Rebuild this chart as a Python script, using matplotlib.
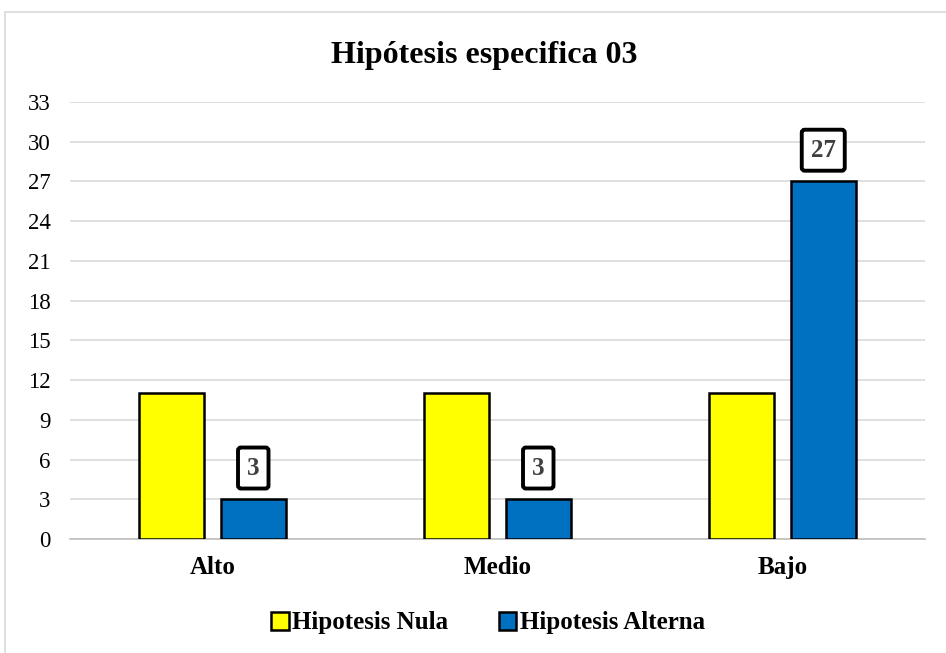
import matplotlib
matplotlib.use("Agg")
import matplotlib.pyplot as plt
from matplotlib.patches import Rectangle
import numpy as np

categories = ["Alto", "Medio", "Bajo"]
nula = [11, 11, 11]
alterna = [3, 3, 27]
yticks = [0, 3, 6, 9, 12, 15, 18, 21, 24, 27, 30, 33]
title = "Hipótesis especifica 03"
series_names = ["Hipotesis Nula", "Hipotesis Alterna"]

plt.rcParams['font.family'] = ['Liberation Serif', 'DejaVu Serif']

W, H = 946, 653
fig = plt.figure(figsize=(W / 100, H / 100), dpi=100)
ax = fig.add_axes([70 / W, 1 - 539 / H, 855 / W, (539 - 102) / H])

x = np.arange(len(categories))
bw = 0.228
off = 0.143
ax.bar(x - off, nula, bw, color="#FFFF00", edgecolor="black", linewidth=1.8,
       label=series_names[0], zorder=3)
ax.bar(x + off, alterna, bw, color="#0070C0", edgecolor="black", linewidth=1.8,
       label=series_names[1], zorder=3)

for xi, v in zip(x + off, alterna):
    ax.annotate(str(v), (xi, v), xytext=(0, 22.5), textcoords="offset points",
                ha="center", va="center", fontsize=18, fontweight="bold",
                color="#404040", zorder=5,
                bbox=dict(boxstyle="round,pad=0.36,rounding_size=0.12",
                          fc="white", ec="black", lw=2.8))

ax.set_xlim(-0.5, 2.5)
ax.set_ylim(0, 33)
ax.set_yticks(yticks)
ax.set_xticks(x)
ax.set_xticklabels(categories, fontsize=18, fontweight="bold")
ax.tick_params(axis="y", labelsize=16.5, length=0, pad=14)
ax.tick_params(axis="x", length=0, pad=12)
ax.grid(axis="y", color="#D9D9D9", linewidth=1.2, zorder=0)
for s in ["left", "right", "top"]:
    ax.spines[s].set_visible(False)
ax.spines["bottom"].set_color("#BFBFBF")
ax.spines["bottom"].set_linewidth(1.2)

fig.text(484 / W, 1 - 55 / H, title, ha="center", va="center",
         fontsize=23, fontweight="bold")

fig.legend(loc="center", bbox_to_anchor=(488 / W, 1 - 623 / H), ncol=2,
           frameon=False, prop={"size": 18, "weight": "bold"},
           handlelength=0.7, handleheight=0.7, handletextpad=0.15,
           columnspacing=2.0)

fig.patches.append(Rectangle((5 / W, -0.01), 1.0, 1 - 12 / H + 0.01,
                             transform=fig.transFigure, fill=False,
                             ec="#D9D9D9", lw=1.2))

fig.savefig("out.png", dpi=100)
